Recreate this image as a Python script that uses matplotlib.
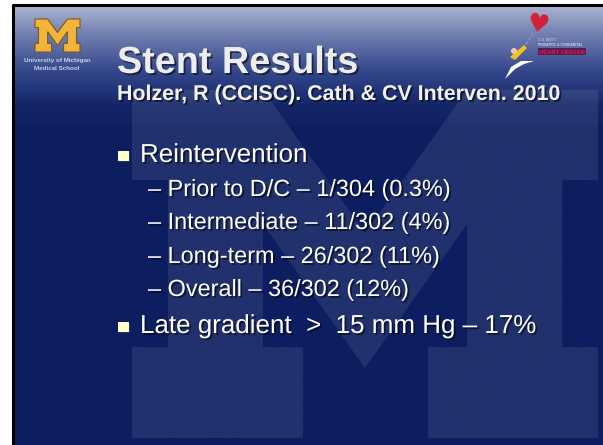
import numpy as np
import matplotlib.pyplot as plt
import matplotlib.patches as mpatches
import matplotlib.patheffects as pe

# slide content
title = "Stent Results"
citation = "Holzer, R (CCISC). Cath & CV Interven. 2010"
items = ["Reintervention",
         "Prior to D/C \u2013 1/304 (0.3%)",
         "Intermediate \u2013 11/302 (4%)",
         "Long-term \u2013 26/302 (11%)",
         "Overall \u2013 36/302 (12%)",
         "Late gradient  >  15 mm Hg \u2013 17%"]
levels = [0, 1, 1, 1, 1, 0]
logo_lines = ["University of Michigan", "Medical School"]

# block M outline, unit box (y down)
m_x = [0, .281, .5, .719, 1, 1, .923, .923, 1, 1, .635, .635, .719, .719, .5,
       .281, .281, .367, .367, 0, 0, .077, .077, 0]
m_y = [0, 0, .411, 0, 0, .259, .259, .739, .739, 1, 1, .739, .739, .385, .799,
       .385, .739, .739, 1, 1, .739, .739, .259, .259]

plt.rcParams['font.family'] = ['Liberation Sans', 'DejaVu Sans']

fig = plt.figure(figsize=(6.03, 4.45), dpi=100, facecolor='white')
ax = fig.add_axes([0, 0, 1, 1])
ax.set_xlim(0, 603)
ax.set_ylim(445, 0)
ax.axis('off')

# background gradient of the slide
x0, y0 = 14, 6
ys = np.linspace(y0, 445, 440)
stops_y = [6, 35, 70, 105, 130, 445]
stops_c = np.array([[170, 178, 207], [112, 126, 176], [52, 72, 140],
                    [20, 38, 104], [12, 30, 96], [12, 30, 96]]) / 255
grad = np.stack([np.interp(ys, stops_y, stops_c[:, k]) for k in range(3)], axis=-1)
ax.imshow(grad[:, None, :], extent=(x0, 603, 445, y0), aspect='auto',
          interpolation='bilinear', zorder=0)
ax.plot([x0 - 1, x0 - 1, 603], [445, y0 - 1, y0 - 1], color='black', lw=2.2,
        zorder=1, solid_capstyle='butt')


def block_m(left, top, w, h, **kw):
    pts = np.column_stack([left + np.array(m_x) * w, top + np.array(m_y) * h])
    return mpatches.Polygon(pts, closed=True, **kw)


# big watermark M
ax.add_patch(block_m(132, 90, 466, 348, facecolor='white', alpha=0.085,
                     edgecolor='none', zorder=1))

# University of Michigan logo
ax.add_patch(block_m(35, 19, 45, 33, facecolor='#f3b43c', edgecolor='#7a5a1c',
                     lw=0.8, zorder=3))
for i, s in enumerate(logo_lines):
    ax.text(57, 62 + i * 8, s, fontsize=4.5, fontweight='bold', color='#c9d0e2',
            ha='center', va='baseline', zorder=3)

# Mott heart logo (approximate)
ax.text(538, 25, "\u2665", family='DejaVu Sans', fontsize=18, color='#d4203a',
        ha='center', va='center', rotation=-10, zorder=3)
ax.plot([533, 529, 524], [33, 40, 47], color='#8a8ab8', lw=1.2, ls=(0, (2, 1)), zorder=3)
ax.add_patch(mpatches.Polygon([[524, 45], [527, 48], [515, 60], [510, 57]],
                              facecolor='#f2c41a', edgecolor='none', zorder=3))
ax.add_patch(mpatches.Ellipse((514, 51), 6, 6, facecolor='#f0c8a8', zorder=3))
ax.add_patch(mpatches.Polygon([[505, 79], [511, 67], [521, 61], [534, 61],
                               [524, 64], [515, 69]],
                              facecolor='white', edgecolor='none', zorder=3))
ax.text(538, 41, "C.S. MOTT", fontsize=2.6, color='#c0b8d8', fontweight='bold',
        va='baseline', zorder=3)
ax.text(538, 46, "PEDIATRIC & CONGENITAL", fontsize=2.4, color='#d8d0e8',
        fontweight='bold', va='baseline', zorder=3)
ax.add_patch(mpatches.Rectangle((538, 48), 48, 7, facecolor='#5a1a58', zorder=3))
ax.text(562, 54, "HEART CENTER", fontsize=4.2, color='#e0203a', fontweight='bold',
        ha='center', va='baseline', zorder=4)

shadow = [pe.SimplePatchShadow(offset=(1.3, -1.3), shadow_rgbFace='black', alpha=0.55),
          pe.Normal()]

ax.text(117, 73, title, fontsize=27.2, fontweight='bold', color='#ededed',
        va='baseline', path_effects=shadow, zorder=5)
ax.text(117, 100, citation, fontsize=15.4, fontweight='bold', color='#f2f2f2',
        va='baseline', path_effects=shadow, zorder=5)

baselines = [162, 196, 229, 263, 296, 333]
for s, lv, yb in zip(items, levels, baselines):
    if lv == 0:
        ax.add_patch(mpatches.Rectangle((118, yb - 11), 11, 10, facecolor='#ffffcc',
                                        edgecolor='none', zorder=5,
                                        path_effects=[pe.SimplePatchShadow(offset=(1, -1), alpha=0.5), pe.Normal()]))
        ax.text(140, yb, s, fontsize=18.7, color='white', va='baseline',
                path_effects=shadow, zorder=5)
    else:
        ax.text(148, yb, "\u2013 " + s, fontsize=16.9, color='white', va='baseline',
                path_effects=shadow, zorder=5)

fig.savefig('out.png', dpi=100, facecolor='white')
